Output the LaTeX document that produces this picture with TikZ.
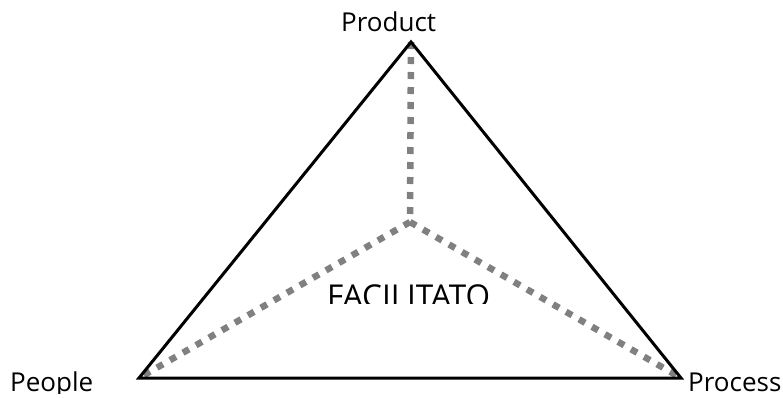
\documentclass[tikz,border=0pt]{standalone}
\usepackage{fontspec}
\setmainfont{Open Sans}
\begin{document}
\begin{tikzpicture}[x=1pt,y=-1pt,
  edge/.style={line width=3pt,line join=miter,black},
  spoke/.style={line width=6.5pt,color=gray,dash pattern=on 7pt off 8pt},
  lbl/.style={anchor=base west,inner sep=0pt,font=\fontsize{26}{30}\selectfont}]
\useasboundingbox (0,0) rectangle (783,397);
\coordinate (top) at (411,42);
\coordinate (left) at (139,378);
\coordinate (right) at (681,378);
\coordinate (mid) at (410,222);
\draw[spoke] (top) -- (mid);
\draw[spoke] (mid) -- (left);
\draw[spoke] (mid) -- (right);
\draw[edge] (top) -- (left) -- (right) -- cycle;
\begin{scope}
\clip (0,0) rectangle (783,31.5);
\node[lbl] (product) at (341,31.8) {Product};
\end{scope}
\begin{scope}
\clip (0,340) rectangle (783,393);
\node[lbl] (people) at (10,391.6) {People};
\node[lbl] (process) at (688,391.6) {Process};
\end{scope}
\begin{scope}
\clip (300,270) rectangle (500,303);
\node[lbl,font=\fontsize{31.5}{36}\selectfont] (facil) at (327,307.5) {FACILITATO};
\end{scope}
\end{tikzpicture}
\end{document}
